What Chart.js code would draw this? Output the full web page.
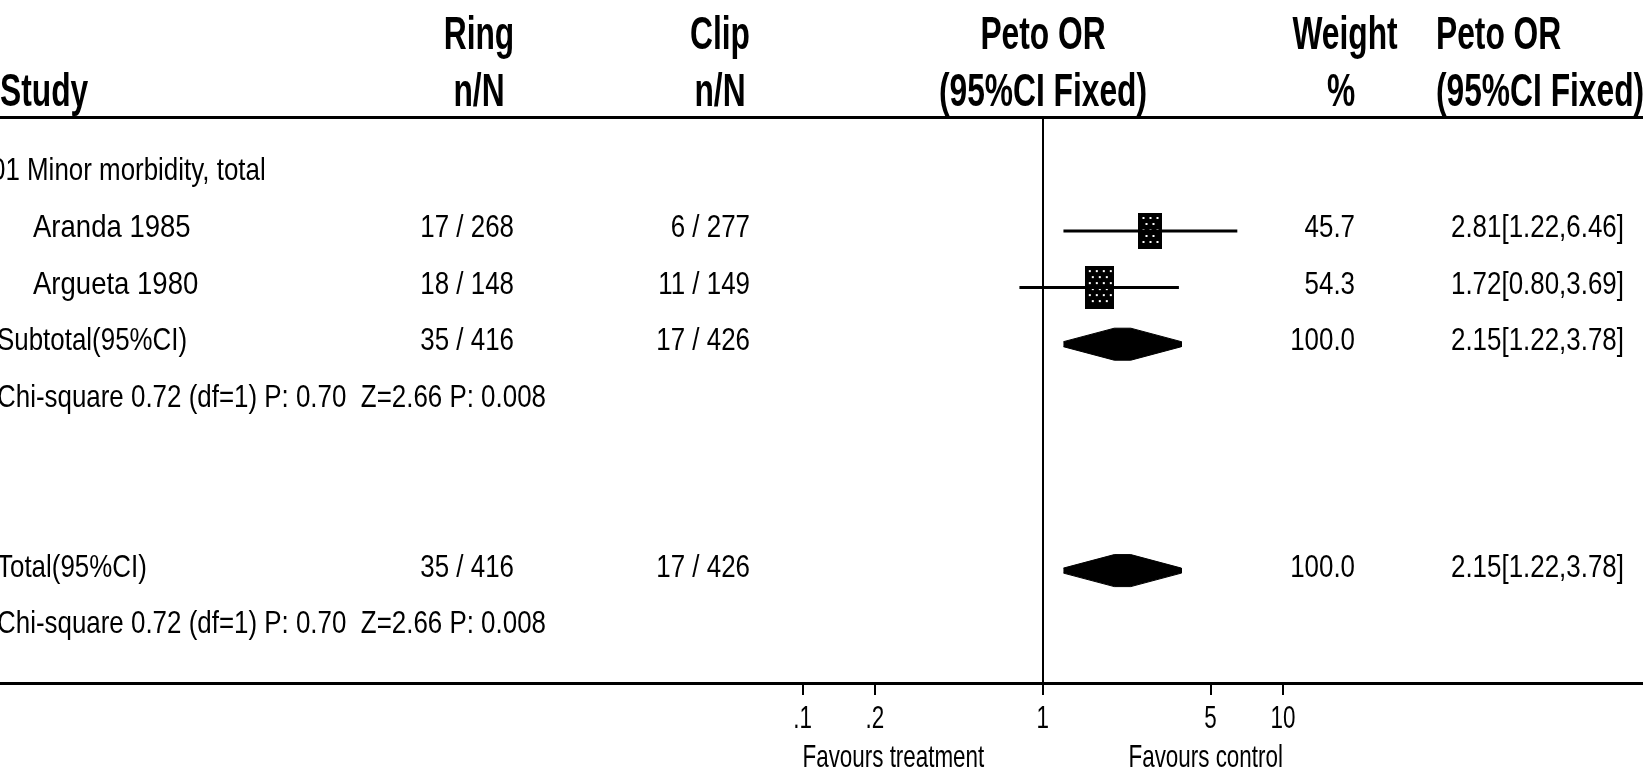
<!DOCTYPE html>
<html>
<head>
<meta charset="utf-8">
<title>Forest plot</title>
<script src="https://cdn.jsdelivr.net/npm/chart.js@4.4.0/dist/chart.umd.min.js"></script>
<style>
  html, body { margin: 0; padding: 0; background: #fff; }
  canvas { display: block; }
</style>
</head>
<body>
<canvas id="forest" width="1643" height="771"></canvas>
<script>
// ---- data ----
const groupLabel = '01 Minor morbidity, total'
const studies = ['Aranda 1985', 'Argueta 1980']
const ringEvents = [17, 18]
const ringTotals = [268, 148]
const clipEvents = [6, 11]
const clipTotals = [277, 149]
const weights = [45.7, 54.3]
const petoOR = [2.81, 1.72]
const ciLow = [1.22, 0.80]
const ciHigh = [6.46, 3.69]

const pooledLabels = ['Subtotal(95%CI)', 'Total(95%CI)']
const pooledRingEvents = [35, 35]
const pooledRingTotals = [416, 416]
const pooledClipEvents = [17, 17]
const pooledClipTotals = [426, 426]
const pooledWeights = [100.0, 100.0]
const pooledOR = [2.15, 2.15]
const pooledLow = [1.22, 1.22]
const pooledHigh = [3.78, 3.78]
const heterogeneity = [
    'Chi-square 0.72 (df=1) P: 0.70  Z=2.66 P: 0.008',
    'Chi-square 0.72 (df=1) P: 0.70  Z=2.66 P: 0.008'
]

const tickValues = [0.1, 0.2, 1, 5, 10]
const tickLabels = ['.1', '.2', '1', '5', '10']
const favours = ['Favours treatment', 'Favours control']

// row index of each line of the table
const groupRow = 0
const studyRows = [1, 2]
const pooledRows = [3, 7]
const hetRows = [4, 8]

// ---- layout (pixels) ----
const W = 1643
const NULL_PX = 1042.7      // where OR = 1 sits
const DECADE_PX = 240.2     // width of one decade on the log axis
const ROW_PX = 56.6
const ROW0_PX = 174.4
const AXIS_PX = 683
const HEADER_LINE_Y = 116

const xMin = Math.pow(10, -NULL_PX / DECADE_PX)
const xMax = Math.pow(10, (W - NULL_PX) / DECADE_PX)
const yMin = -ROW0_PX / ROW_PX
const yMax = yMin + AXIS_PX / ROW_PX

const FAM = '"Liberation Sans", Arial, sans-serif'
const HEAD_FONT = 'bold 46px ' + FAM
const BODY_FONT = '32px ' + FAM

// squeezed text, like the narrow bitmap font of the original
function txt(ctx, s, x, y, align, font, sx) {
    ctx.save()
    ctx.font = font
    ctx.fillStyle = '#000'
    ctx.textAlign = align
    ctx.textBaseline = 'alphabetic'
    ctx.translate(x, y)
    ctx.scale(sx, 1)
    ctx.fillText(s, 0, 0)
    ctx.restore()
}

// dotted box, size follows the weight
function makeBox(weight) {
    const w = Math.round(weight * 0.53)
    const h = Math.round(weight * 0.79)
    const c = document.createElement('canvas')
    c.width = w
    c.height = h
    const g = c.getContext('2d')
    g.fillStyle = '#000'
    g.fillRect(0, 0, w, h)
    g.fillStyle = '#fff'
    let r = 0
    for (let y = 4; y < h - 3; y += 6) {
        for (let x = (r % 2 ? 7 : 4); x < w - 3; x += 7) g.fillRect(x, y, 2, 2)
        r++
    }
    return c
}

// point between two values on the log axis
const logMix = (a, b, f) => Math.pow(10, Math.log10(a) + f * (Math.log10(b) - Math.log10(a)))

const datasets = []

// confidence interval lines
studies.forEach((s, i) => {
    datasets.push({
        label: s + ' CI',
        data: [{x: ciLow[i], y: studyRows[i]}, {x: ciHigh[i], y: studyRows[i]}],
        showLine: true,
        borderColor: '#000',
        borderWidth: 3,
        pointRadius: 0,
        fill: false
    })
})

// study boxes
datasets.push({
    label: 'Peto OR',
    data: studies.map((s, i) => ({x: petoOR[i], y: studyRows[i]})),
    showLine: false,
    pointStyle: studies.map((s, i) => makeBox(weights[i])),
    pointRadius: 20,
    pointHoverRadius: 20
})

// pooled diamonds (flat crown, thin tips)
const half = 16 / ROW_PX
const tip = 2.5 / ROW_PX
const crown = 0.14
pooledLabels.forEach((p, i) => {
    const r = pooledRows[i]
    const lo = pooledLow[i], est = pooledOR[i], hi = pooledHigh[i]
    datasets.push({
        label: p,
        data: [
            {x: lo, y: r - tip},
            {x: logMix(est, lo, crown), y: r - half},
            {x: logMix(est, hi, crown), y: r - half},
            {x: hi, y: r - tip},
            {x: hi, y: r + tip},
            {x: logMix(est, hi, crown), y: r + half},
            {x: logMix(est, lo, crown), y: r + half},
            {x: lo, y: r + tip}
        ],
        showLine: true,
        tension: 0,
        borderColor: '#000',
        borderWidth: 1,
        backgroundColor: '#000',
        pointRadius: 0,
        fill: 'shape'
    })
})

const tablePlugin = {
    id: 'forestTable',
    afterDraw(chart) {
        const ctx = chart.ctx
        const xs = chart.scales.x
        const ys = chart.scales.y
        const rowY = r => ys.getPixelForValue(r) + 6

        // header rule and line of no effect
        ctx.save()
        ctx.fillStyle = '#000'
        ctx.fillRect(0, HEADER_LINE_Y, W, 3)
        const x1 = Math.round(xs.getPixelForValue(1))
        ctx.fillRect(x1 - 1, HEADER_LINE_Y + 3, 2, chart.chartArea.bottom - HEADER_LINE_Y - 3)
        ctx.restore()

        // headers
        const hs = 0.69
        txt(ctx, 'Ring', 479, 49, 'center', HEAD_FONT, hs)
        txt(ctx, 'Clip', 720, 49, 'center', HEAD_FONT, hs)
        txt(ctx, 'Peto OR', x1, 49, 'center', HEAD_FONT, hs)
        txt(ctx, 'Weight', 1345, 49, 'center', HEAD_FONT, hs)
        txt(ctx, 'Peto OR', 1436, 49, 'left', HEAD_FONT, hs)
        txt(ctx, 'Study', 0, 106, 'left', HEAD_FONT, hs)
        txt(ctx, 'n/N', 479, 106, 'center', HEAD_FONT, hs)
        txt(ctx, 'n/N', 720, 106, 'center', HEAD_FONT, hs)
        txt(ctx, '(95%CI Fixed)', x1, 106, 'center', HEAD_FONT, hs)
        txt(ctx, '%', 1341, 106, 'center', HEAD_FONT, hs)
        txt(ctx, '(95%CI Fixed)', 1436, 106, 'left', HEAD_FONT, hs)

        // body
        const bs = 0.81
        txt(ctx, groupLabel, -9, rowY(groupRow), 'left', BODY_FONT, bs)
        studies.forEach((s, i) => {
            const y = rowY(studyRows[i])
            txt(ctx, s, 33, y, 'left', BODY_FONT, 0.86)
            txt(ctx, ringEvents[i] + ' / ' + ringTotals[i], 514, y, 'right', BODY_FONT, bs)
            txt(ctx, clipEvents[i] + ' / ' + clipTotals[i], 750, y, 'right', BODY_FONT, bs)
            txt(ctx, weights[i].toFixed(1), 1355, y, 'right', BODY_FONT, bs)
            txt(ctx, petoOR[i].toFixed(2) + '[' + ciLow[i].toFixed(2) + ',' + ciHigh[i].toFixed(2) + ']',
                1451, y, 'left', BODY_FONT, bs)
        })
        pooledLabels.forEach((p, i) => {
            const y = rowY(pooledRows[i])
            txt(ctx, p, -3, y, 'left', BODY_FONT, bs)
            txt(ctx, pooledRingEvents[i] + ' / ' + pooledRingTotals[i], 514, y, 'right', BODY_FONT, bs)
            txt(ctx, pooledClipEvents[i] + ' / ' + pooledClipTotals[i], 750, y, 'right', BODY_FONT, bs)
            txt(ctx, pooledWeights[i].toFixed(1), 1355, y, 'right', BODY_FONT, bs)
            txt(ctx, pooledOR[i].toFixed(2) + '[' + pooledLow[i].toFixed(2) + ',' + pooledHigh[i].toFixed(2) + ']',
                1451, y, 'left', BODY_FONT, bs)
            txt(ctx, heterogeneity[i], -3, rowY(hetRows[i]), 'left', BODY_FONT, bs)
        })

        // axis tick labels and captions
        xs.ticks.forEach((t, i) => {
            txt(ctx, tickLabels[i], xs.getPixelForValue(t.value), 728, 'center', BODY_FONT, 0.7)
        })
        txt(ctx, favours[0], xs.getPixelForValue(tickValues[0]), 767, 'left', BODY_FONT, 0.7)
        txt(ctx, favours[1], xs.getPixelForValue(tickValues[tickValues.length - 1]), 767, 'right', BODY_FONT, 0.7)
    }
}

new Chart(document.getElementById('forest'), {
    type: 'scatter',
    data: {datasets: datasets},
    options: {
        responsive: false,
        animation: false,
        devicePixelRatio: 1,
        layout: {padding: 0, autoPadding: false},
        plugins: {
            legend: {display: false},
            tooltip: {enabled: false}
        },
        scales: {
            x: {
                type: 'logarithmic',
                position: 'bottom',
                min: xMin,
                max: xMax,
                afterBuildTicks: s => { s.ticks = tickValues.map(v => ({value: v})) },
                afterFit: s => { s.height = 771 - AXIS_PX },
                ticks: {display: false},
                grid: {
                    display: true,
                    drawOnChartArea: false,
                    drawTicks: true,
                    tickLength: 12,
                    color: '#000',
                    lineWidth: 2
                },
                border: {display: true, color: '#000', width: 3}
            },
            y: {
                type: 'linear',
                display: false,
                reverse: true,
                min: yMin,
                max: yMax
            }
        }
    },
    plugins: [tablePlugin]
})
</script>
</body>
</html>
